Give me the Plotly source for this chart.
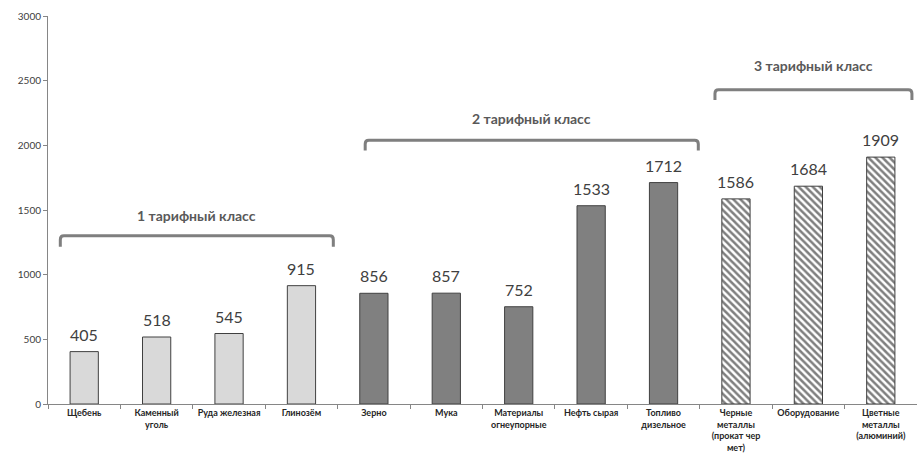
import plotly.graph_objects as go

categories = ["Щебень", "Каменный<br>уголь", "Руда железная", "Глинозём", "Зерно", "Мука",
              "Материалы<br>огнеупорные", "Нефть сырая", "Топливо<br>дизельное",
              "Черные<br>металлы<br>(прокат чер<br>мет)", "Оборудование", "Цветные<br>металлы<br>(алюминий)"]
values = [405, 518, 545, 915, 856, 857, 752, 1533, 1712, 1586, 1684, 1909]
tariff_class = [1, 1, 1, 1, 2, 2, 2, 2, 2, 3, 3, 3]

bracket_labels = ["1 тарифный класс", "2 тарифный класс", "3 тарифный класс"]
bracket_x0 = [-0.33, 3.88, 8.71]
bracket_x1 = [3.44, 8.48, 11.43]
bracket_y = [1300, 2040, 2430]
bracket_drop = [85, 80, 80]
bracket_text_y = [1460, 2210, 2620]

y_ticks = [0, 500, 1000, 1500, 2000, 2500, 3000]

fig = go.Figure()

styles = {
    1: dict(color="#d9d9d9", line=dict(color="#404040", width=1)),
    2: dict(color="#808080", line=dict(color="#404040", width=1)),
    3: dict(color="white", line=dict(color="#404040", width=1),
            pattern=dict(shape="\\", fgcolor="black", bgcolor="white", size=5, solidity=0.5)),
}

xs_all = list(range(len(categories)))
for cls in (1, 2, 3):
    xs = [i for i, c in enumerate(tariff_class) if c == cls]
    ys = [values[i] for i in xs]
    fig.add_trace(go.Bar(
        x=xs, y=ys, width=0.39, marker=styles[cls],
        showlegend=False, hoverinfo="skip",
    ))

for x, v in zip(xs_all, values):
    fig.add_annotation(x=x, y=v, text=str(v), showarrow=False, yanchor="bottom", yshift=6,
                       font=dict(family="Lato", size=16, color="#404040"))

for lab, x0, x1, y, d, ty in zip(bracket_labels, bracket_x0, bracket_x1, bracket_y, bracket_drop, bracket_text_y):
    rx, ry = 0.05, 30
    path = (f"M {x0},{y-d} L {x0},{y-ry} Q {x0},{y} {x0+rx},{y} "
            f"L {x1-rx},{y} Q {x1},{y} {x1},{y-ry} L {x1},{y-d}")
    fig.add_shape(type="path", path=path, xref="x", yref="y",
                  line=dict(color="#7f7f7f", width=3))
    fig.add_annotation(x=(x0 + x1) / 2, y=ty, text=f"<b>{lab}</b>", showarrow=False,
                       font=dict(family="Lato", size=14, color="#595959"))

fig.update_layout(
    width=917, height=456,
    margin=dict(l=48, r=0, t=16, b=52),
    plot_bgcolor="white", paper_bgcolor="white",
    bargap=0.6,
)
fig.update_xaxes(
    range=[-0.5, len(categories) - 0.5],
    tickmode="array", tickvals=xs_all, ticktext=[f"<b>{c}</b>" for c in categories],
    ticks="", showline=True, linecolor="#868686", linewidth=1,
    tickfont=dict(family="Lato", size=9, color="#262626"),
    minor=dict(tickmode="linear", tick0=-0.5, dtick=1, ticks="outside", ticklen=4, tickcolor="#868686"),
    showgrid=False, zeroline=False,
)
fig.update_yaxes(
    range=[0, 3000], tickmode="array", tickvals=y_ticks,
    ticks="outside", ticklen=4, tickcolor="#868686",
    showline=True, linecolor="#868686", linewidth=1,
    tickfont=dict(family="Lato", size=10, color="#404040"),
    showgrid=False, zeroline=False,
)

fig.write_html("out.html")
